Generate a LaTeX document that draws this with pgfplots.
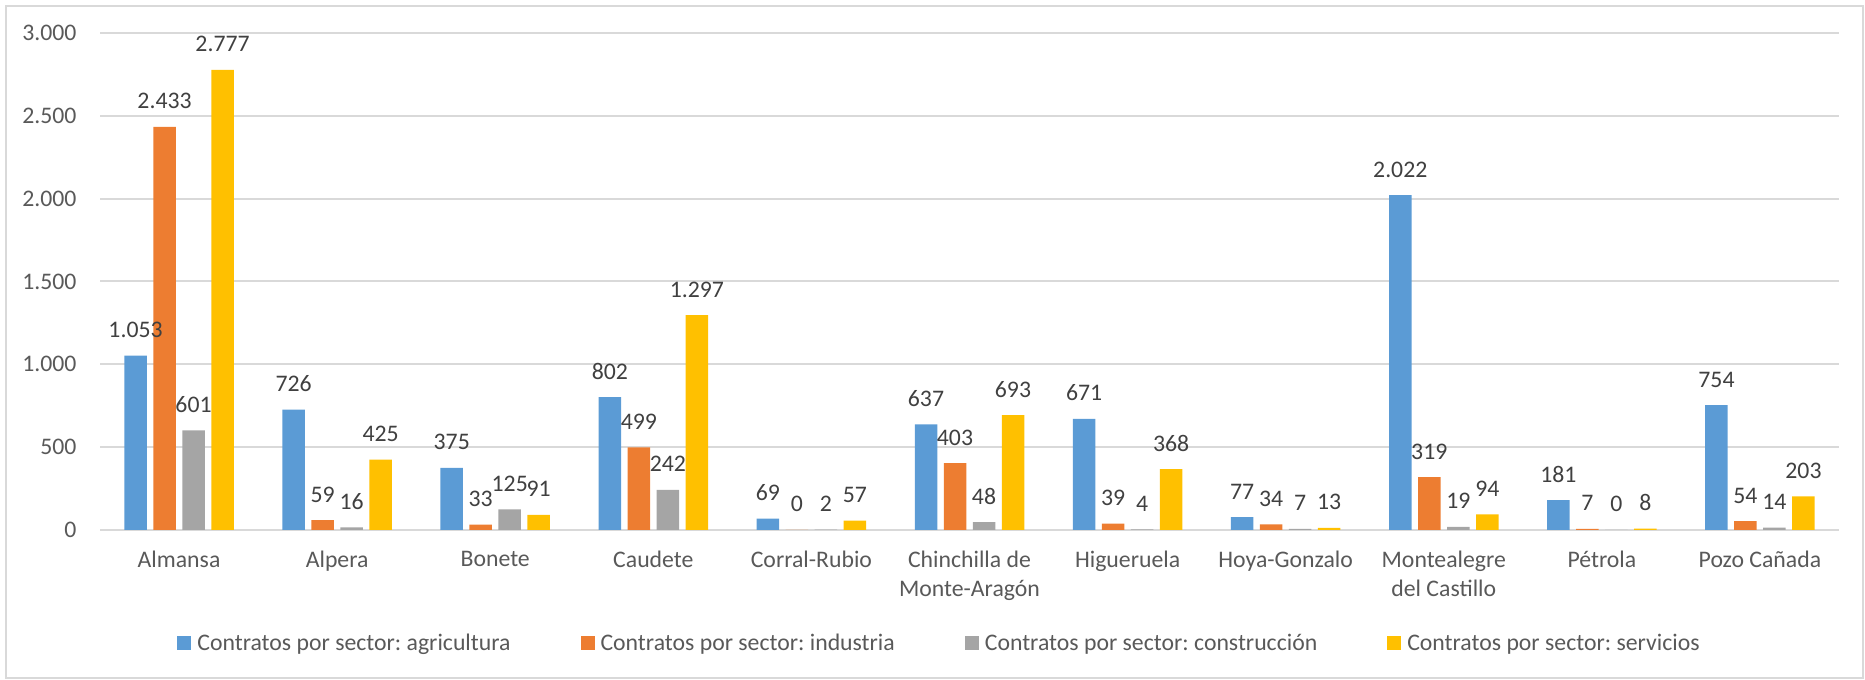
\documentclass[border=0pt]{standalone}
\usepackage{fontspec}
\setmainfont{Carlito}
\usepackage{pgfplots}
\pgfplotsset{compat=1.18}
\definecolor{cA}{HTML}{5B9BD5}
\definecolor{cB}{HTML}{ED7D31}
\definecolor{cC}{HTML}{A5A5A5}
\definecolor{cD}{HTML}{FFC000}
\definecolor{gridgray}{HTML}{D9D9D9}
\definecolor{tickgray}{HTML}{595959}
\definecolor{labgray}{HTML}{404040}
\newcommand{\cf}{\fontsize{9.5}{11.6}\selectfont}
\frenchspacing
\begin{document}
\frenchspacing
\begin{tikzpicture}
\useasboundingbox (0,0) rectangle (746pt,272pt);
\draw[draw=gridgray, line width=0.8pt] (2.4pt,0.8pt) rectangle (745.2pt,269.6pt);
\begin{axis}[
  at={(40pt,60pt)}, anchor=south west,
  scale only axis, width=695.6pt, height=198.8pt,
  xmin=-0.5, xmax=10.5, ymin=0, ymax=3000,
  ybar=2.6pt, bar width=9pt,
  xtick={0,...,10},
  xticklabels={Almansa, Alpera, Bonete, Caudete, Corral-Rubio, {Chinchilla de\\Monte-Aragón}, Higueruela, Hoya-Gonzalo, {Montealegre\\del Castillo}, Pétrola, Pozo Cañada},
  ytick={0,500,...,3000},
  scaled y ticks=false,
  /pgf/number format/1000 sep={.},
  /pgf/number format/fixed,
  /pgf/number format/precision=0,
  /pgf/number format/assume math mode=true,
  ymajorgrids, grid style={draw=gridgray, line width=0.8pt},
  axis line style={draw=none}, major tick length=0pt,
  tick label style={font=\cf, text=tickgray},
  yticklabel style={inner xsep=0pt, xshift=-9.2pt},
  xticklabel style={align=center, anchor=north, inner ysep=0pt, yshift=-8.4pt},
  nodes near coords,
  nodes near coords style={font=\cf, text=labgray, anchor=base, yshift=7.2pt},
  legend columns=4,
  legend style={at={(0.4822,-0.2294)}, anchor=center, draw=none, fill=none,
    font=\cf, text=tickgray, nodes={inner xsep=0pt, inner ysep=1pt},
    /tikz/every odd column/.append style={column sep=2.4pt},
    /tikz/every even column/.append style={column sep=28pt}},
  legend image code/.code={\fill[#1] (0pt,-2.5pt) rectangle (5.6pt,3.1pt);},
]
\addplot[draw=none, fill=cA] coordinates {(0,1053) (1,726) (2,375) (3,802) (4,69) (5,637) (6,671) (7,77) (8,2022) (9,181) (10,754)};
\addplot[draw=none, fill=cB] coordinates {(0,2433) (1,59) (2,33) (3,499) (4,0) (5,403) (6,39) (7,34) (8,319) (9,7) (10,54)};
\addplot[draw=none, fill=cC] coordinates {(0,601) (1,16) (2,125) (3,242) (4,2) (5,48) (6,4) (7,7) (8,19) (9,0) (10,14)};
\addplot[draw=none, fill=cD] coordinates {(0,2777) (1,425) (2,91) (3,1297) (4,57) (5,693) (6,368) (7,13) (8,94) (9,8) (10,203)};
\legend{Contratos por sector: agricultura, Contratos por sector: industria, Contratos por sector: construcción, Contratos por sector: servicios}
\end{axis}
\end{tikzpicture}
\end{document}
